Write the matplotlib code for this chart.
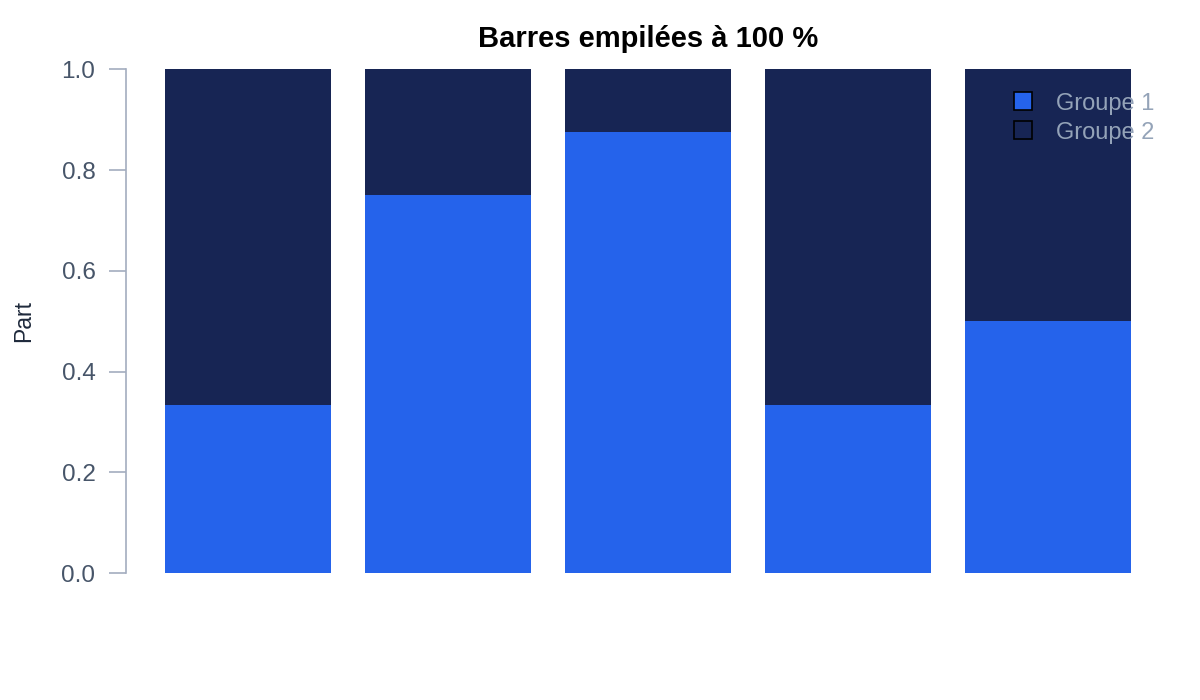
import matplotlib
matplotlib.use("Agg")
import matplotlib.pyplot as plt
from matplotlib.lines import Line2D

plt.rcParams["font.family"] = ["Liberation Sans", "DejaVu Sans"]

# data
categories = ["A", "B", "C", "D", "E"]
groupe1 = [1 / 3, 0.75, 0.875, 1 / 3, 0.5]
groupe2 = [1 - v for v in groupe1]
series_names = ["Groupe 1", "Groupe 2"]
yticks = [0.0, 0.2, 0.4, 0.6, 0.8, 1.0]

c1 = "#2563eb"
c2 = "#172554"

fig = plt.figure(figsize=(12, 7), dpi=100)
ax = fig.add_axes([0.105, 0.181, 0.87, 0.72])

x = list(range(len(categories)))
ax.bar(x, groupe1, width=0.83, color=c1, label=series_names[0])
ax.bar(x, groupe2, width=0.83, bottom=groupe1, color=c2, label=series_names[1])

ax.set_xlim(-0.61, len(categories) - 1 + 0.61)
ax.set_ylim(0, 1)
ax.set_yticks(yticks)
ax.set_yticklabels([f"{t:.1f}" for t in yticks])
ax.set_xticks([])

for s in ("top", "right", "bottom"):
    ax.spines[s].set_visible(False)
ax.spines["left"].set_color("#a3adbf")
ax.spines["left"].set_linewidth(1.2)
ax.tick_params(axis="y", colors="#a3adbf", labelcolor="#475569",
               labelsize=17.5, length=12, width=1.2, pad=10)
ax.set_ylabel("Part", fontsize=16.5, color="#1e293b", labelpad=19)
ax.set_title("Barres empilées à 100 %", fontsize=21, fontweight="bold",
             color="#000000", pad=16)

handles = [
    Line2D([], [], marker="s", linestyle="none", markersize=12.5,
           markerfacecolor=c1, markeredgecolor="black", markeredgewidth=1.2),
    Line2D([], [], marker="s", linestyle="none", markersize=12.5,
           markerfacecolor=c2, markeredgecolor="black", markeredgewidth=1.2),
]
leg = ax.legend(handles, series_names, loc="upper right", frameon=False,
                fontsize=17, handlelength=1.0, handletextpad=0.9,
                labelspacing=0.3, bbox_to_anchor=(1.005, 0.996))
for t in leg.get_texts():
    t.set_color("#94a3b8")

fig.savefig("out.png", dpi=100)
